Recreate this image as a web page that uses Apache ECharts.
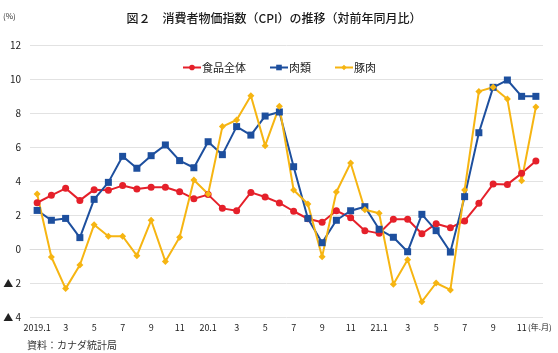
<!DOCTYPE html>
<html><head><meta charset="utf-8">
<script src="https://cdn.jsdelivr.net/npm/echarts@6/dist/echarts.min.js"></script>
<style>html,body{margin:0;padding:0;background:#fff}#c{width:558px;height:353px}</style>
</head><body><div id="c"></div>
<script>
const categories = ["2019.1","2","3","4","5","6","7","8","9","10","11","12",
  "20.1","2","3","4","5","6","7","8","9","10","11","12",
  "21.1","2","3","4","5","6","7","8","9","10","11","12"];
const food = [2.72,3.16,3.57,2.86,3.49,3.45,3.73,3.53,3.63,3.63,3.37,2.96,
  3.2,2.39,2.25,3.33,3.06,2.71,2.22,1.78,1.57,2.25,1.84,1.08,
  0.92,1.75,1.75,0.9,1.49,1.25,1.65,2.69,3.82,3.8,4.45,5.18];
const meat = [2.27,1.69,1.8,0.67,2.92,3.92,5.45,4.75,5.49,6.12,5.2,4.78,
  6.31,5.55,7.2,6.7,7.82,8.06,4.84,1.8,0.37,1.69,2.25,2.49,
  1.16,0.69,-0.16,2.04,1.08,-0.18,3.08,6.84,9.51,9.94,8.98,8.98];
const pork = [3.24,-0.47,-2.33,-0.94,1.43,0.75,0.75,-0.39,1.69,-0.73,0.69,4.06,
  3.24,7.2,7.59,9.02,6.08,8.39,3.47,2.65,-0.45,3.35,5.06,2.31,
  2.1,-2.08,-0.63,-3.1,-2.0,-2.41,3.47,9.27,9.51,8.82,4.02,8.35];
const seriesNames = ["食品全体","肉類","豚肉"];

const FONT = '"Noto Sans CJK JP", "Noto Sans", sans-serif';
const chart = echarts.init(document.getElementById('c'), null, {renderer:'canvas'});
const mk = (name, data, color, symbol, size) => ({
  name, type:'line', data, symbol, symbolSize:size, showSymbol:true,
  lineStyle:{color, width:2}, itemStyle:{color, borderWidth:0},
  emphasis:{disabled:true}, animation:false
});
chart.setOption({
  animation:false,
  textStyle:{fontFamily:FONT},
  title:{text:'図２　消費者物価指数（CPI）の推移（対前年同月比）', left:269, top:7, textAlign:'center',
    textStyle:{fontSize:12, fontWeight:500, color:'#1a1a1a', fontFamily:FONT}},
  legend:{top:57, left:'center', itemWidth:18, itemHeight:7, itemGap:23,
    textStyle:{fontSize:11, color:'#222', fontFamily:FONT, padding:[0,0,0,-4]},
    data:seriesNames},
  grid:{left:30, right:15, top:45, bottom:36},
  xAxis:{type:'category', data:categories, boundaryGap:true,
    axisLine:{show:true, lineStyle:{color:'#dcdcdc'}}, axisTick:{show:false},
    axisLabel:{interval:1, fontSize:9, color:'#222', margin:6, fontFamily:FONT}},
  yAxis:{type:'value', min:-4, max:12, interval:2,
    axisLine:{show:false}, axisTick:{show:false},
    splitLine:{lineStyle:{color:'#e2e2e2'}},
    axisLabel:{fontSize:10, color:'#222', margin:9, fontFamily:FONT,
      formatter:v => v < 0 ? '▲ ' + Math.abs(v) : String(v)}},
  graphic:[
    {type:'text', left:3, top:12, style:{text:'(%)', fontSize:8, fill:'#333', fontFamily:FONT}},
    {type:'text', left:528, top:323, style:{text:'(年.月)', fontSize:8, fill:'#222', fontFamily:FONT}},
    {type:'text', left:27, top:340, style:{text:'資料：カナダ統計局', fontSize:10, fill:'#333', fontFamily:FONT}}
  ],
  series:[
    mk(seriesNames[0], food, '#e5202a', 'circle', 7),
    mk(seriesNames[1], meat, '#1d4f9e', 'rect', 7),
    mk(seriesNames[2], pork, '#f6b512', 'diamond', 7)
  ]
});
</script></body></html>
